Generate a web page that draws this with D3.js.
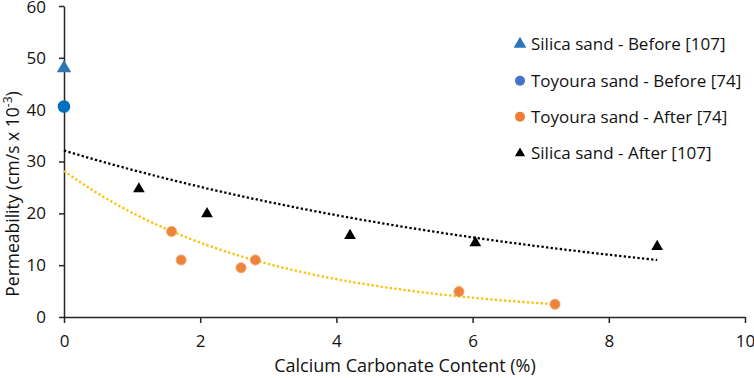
<!DOCTYPE html>
<html><head><meta charset="utf-8">
<script src="https://cdn.jsdelivr.net/npm/d3@7"></script>
<style>body{margin:0;background:#fff}svg{display:block}text{font-family:"Open Sans",sans-serif}</style>
</head><body>
<svg id="c" width="754" height="378"></svg>
<script>
// Data
const silicaBefore = [{x:0, y:48}];
const toyouraBefore = [{x:0, y:40.6}];
const toyouraAfterX = [1.58, 1.72, 2.60, 2.81, 5.80, 7.21];
const toyouraAfterY = [16.5, 11.0, 9.5, 11.0, 4.9, 2.45];
const silicaAfterX = [1.10, 2.10, 4.20, 6.04, 8.71];
const silicaAfterY = [24.7, 19.9, 15.7, 14.3, 13.6];
const xTicks = [0, 2, 4, 6, 8, 10];
const yTicks = [0, 10, 20, 30, 40, 50, 60];
const legendLabels = ["Silica sand - Before [107]", "Toyoura sand - Before [74]", "Toyoura sand - After [74]", "Silica sand - After [107]"];

const toyouraAfter = toyouraAfterX.map((x,i)=>({x, y:toyouraAfterY[i]}));
const silicaAfter = silicaAfterX.map((x,i)=>({x, y:silicaAfterY[i]}));

const svg = d3.select("#c");
const x = d3.scaleLinear().domain([0,10]).range([64,745]);
const y = d3.scaleLinear().domain([0,60]).range([317,6]);

// exponential regression (Excel-style trendline)
function expFit(pts){
  const mx=d3.mean(pts,d=>d.x), my=d3.mean(pts,d=>Math.log(d.y));
  let sxy=0,sxx=0;
  pts.forEach(d=>{sxy+=(d.x-mx)*(Math.log(d.y)-my);sxx+=(d.x-mx)*(d.x-mx);});
  const b=sxy/sxx, a=Math.exp(my-b*mx);
  return {a,b,x0:d3.min(pts,d=>d.x),x1:d3.max(pts,d=>d.x)};
}
function trend(pts,color){
  const f=expFit(pts);
  const xs=d3.range(0,201).map(i=>f.x0+(f.x1-f.x0)*i/200);
  const line=d3.line().x(d=>x(d)).y(d=>y(f.a*Math.exp(f.b*d)));
  svg.append("path").attr("d",line(xs)).attr("fill","none")
    .attr("stroke",color).attr("stroke-width",2.3).attr("stroke-dasharray","2.3,2.3");
}

// axes
const gx = svg.append("g").attr("transform","translate(0,317)")
  .call(d3.axisBottom(x).tickValues(xTicks).tickSize(6).tickSizeOuter(0).tickPadding(12));
const gy = svg.append("g").attr("transform","translate(64,0)")
  .call(d3.axisLeft(y).tickValues(yTicks).tickSize(5).tickSizeOuter(0).tickPadding(13));
[gx,gy].forEach(g=>{
  g.select(".domain").attr("stroke","#262626").attr("stroke-width",1.5);
  g.selectAll(".tick line").attr("stroke","#262626").attr("stroke-width",1.5);
  g.selectAll(".tick text").attr("font-size",17).attr("fill","#111").attr("font-family","'Open Sans',sans-serif");
});
gy.selectAll(".tick text").filter(d=>d===60).attr("dy","0.4em");

trend(silicaBefore.concat(silicaAfter),"#000");
trend(toyouraBefore.concat(toyouraAfter),"#FFC000");

const tri = d3.symbol().type(d3.symbolTriangle);
// markers
svg.selectAll(".sb").data(silicaBefore).join("path")
  .attr("d",tri.size(90)()).attr("fill","#2E75B6")
  .attr("transform",d=>`translate(${x(d.x)},${y(d.y)})`);
svg.selectAll(".tb").data(toyouraBefore).join("circle")
  .attr("cx",d=>x(d.x)).attr("cy",d=>y(d.y)).attr("r",6.3).attr("fill","#0070C0");
svg.selectAll(".ta").data(toyouraAfter).join("circle")
  .attr("cx",d=>x(d.x)).attr("cy",d=>y(d.y)).attr("r",5).attr("fill","#ED7D31")
  .attr("stroke","#F4A06A").attr("stroke-width",1).attr("fill-opacity",0.95);
svg.selectAll(".sa").data(silicaAfter).join("path")
  .attr("d",d3.symbol().type(d3.symbolTriangle).size(60)()).attr("fill","#000")
  .attr("transform",d=>`translate(${x(d.x)},${y(d.y)})`);

// axis titles
svg.append("text").attr("x",405).attr("y",372).attr("text-anchor","middle")
  .attr("font-size",18).attr("fill","#111").text("Calcium Carbonate Content (%)");
const yl = svg.append("text").attr("transform","translate(19,194) rotate(-90)")
  .attr("text-anchor","middle").attr("font-size",17.5).attr("fill","#111");
yl.append("tspan").text("Permeability (cm/s x 10");
yl.append("tspan").attr("font-size",12).attr("dy",-7).text("-3");
yl.append("tspan").attr("dy",7).text(")");

// legend
const legY=[44,80.7,116.7,153.3];
const lg = svg.append("g");
lg.append("path").attr("d",d3.symbol().type(d3.symbolTriangle).size(70)()).attr("fill","#2E75B6")
  .attr("transform",`translate(520,${legY[0]})`);
lg.append("circle").attr("cx",520).attr("cy",legY[1]).attr("r",5).attr("fill","#4472C4");
lg.append("circle").attr("cx",520).attr("cy",legY[2]).attr("r",5).attr("fill","#ED7D31");
lg.append("path").attr("d",d3.symbol().type(d3.symbolTriangle).size(45)()).attr("fill","#000")
  .attr("transform",`translate(520,${legY[3]})`);
legendLabels.forEach((t,i)=>{
  lg.append("text").attr("x",531).attr("y",legY[i]).attr("dy","0.35em")
    .attr("font-size",17).attr("fill","#111").text(t);
});
</script>
</body></html>
